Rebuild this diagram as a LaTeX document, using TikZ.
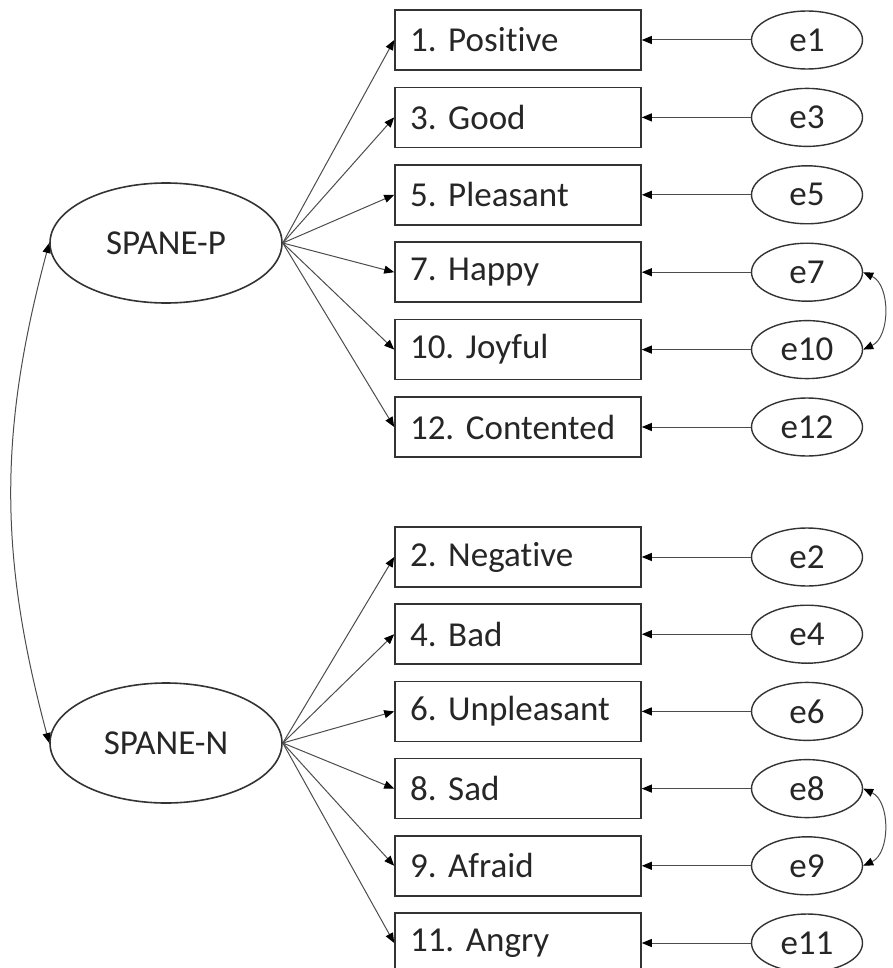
\documentclass[tikz,border=0pt]{standalone}
\usepackage{fontspec}
\setmainfont[Ligatures=NoCommon]{Carlito}
\usetikzlibrary{arrows.meta,shapes.geometric}
\frenchspacing
\begin{document}
\begin{tikzpicture}[x=1pt,y=1pt,
  every node/.style={font=\fontsize{35}{40}\selectfont\frenchspacing, text=black!85},
  item/.style={draw=black!80, line width=1.6pt, minimum width=246pt, minimum height=60pt, text width=216pt, inner xsep=15pt, inner ysep=0pt, align=left},
  err/.style={ellipse, draw=black!80, line width=1.4pt, minimum width=111pt, minimum height=58pt, inner sep=0pt},
  latent/.style={ellipse, draw=black!80, line width=1.6pt, minimum width=232pt, minimum height=120pt, inner sep=0pt},
  load/.style={draw=black!70, line width=1pt, -{Triangle[length=10pt,width=8pt,color=black]}},
  cov/.style={draw=black!70, line width=1pt, {Triangle[length=10pt,width=8pt,color=black]}-{Triangle[length=10pt,width=8pt,color=black]}},
]
\useasboundingbox (0,0) rectangle (893,-968);

\node[latent] (P) at (166,-243) {SPANE-P};
\node[latent] (N) at (166,-743) {SPANE-N};

% positive items
\node[item] (i1)  at (518,-40)  {1. Positive};
\node[item] (i3)  at (518,-117.4) {3. Good};
\node[item] (i5)  at (518,-194.8) {5. Pleasant};
\node[item] (i7)  at (518,-272.2) {7. Happy};
\node[item] (i10) at (518,-349.6) {10. Joyful};
\node[item] (i12) at (518,-427)  {12. Contented};
% negative items
\node[item] (i2)  at (518,-557) {2. Negative};
\node[item] (i4)  at (518,-634.2) {4. Bad};
\node[item] (i6)  at (518,-711.4) {6. Unpleasant};
\node[item] (i8)  at (518,-788.6) {8. Sad};
\node[item] (i9)  at (518,-865.8) {9. Afraid};
\node[item] (i11) at (518,-943) {11. Angry};

% error terms
\foreach \n/\y in {1/-40,3/-117.4,5/-194.8,7/-272.2,10/-349.6,12/-427,2/-557,4/-634.2,6/-711.4,8/-788.6,9/-865.8,11/-943}{
  \node[err] (e\n) at (807,\y) {e\n};
}

% loadings
\foreach \n in {1,3,5,7,10,12}{\draw[load] (P.east) -- (i\n.west);}
\foreach \n in {2,4,6,8,9,11}{\draw[load] (N.east) -- (i\n.west);}

% error paths
\foreach \n in {1,3,5,7,10,12,2,4,6,8,9,11}{\draw[load] (e\n.west) -- (i\n.east);}

% covariances
\draw[cov] (e7.east) to[out=-25,in=25] (e10.east);
\draw[cov] (e8.east) to[out=-25,in=25] (e9.east);
\draw[cov] (P.west) to[out=-105,in=105] (N.west);
\end{tikzpicture}
\end{document}
